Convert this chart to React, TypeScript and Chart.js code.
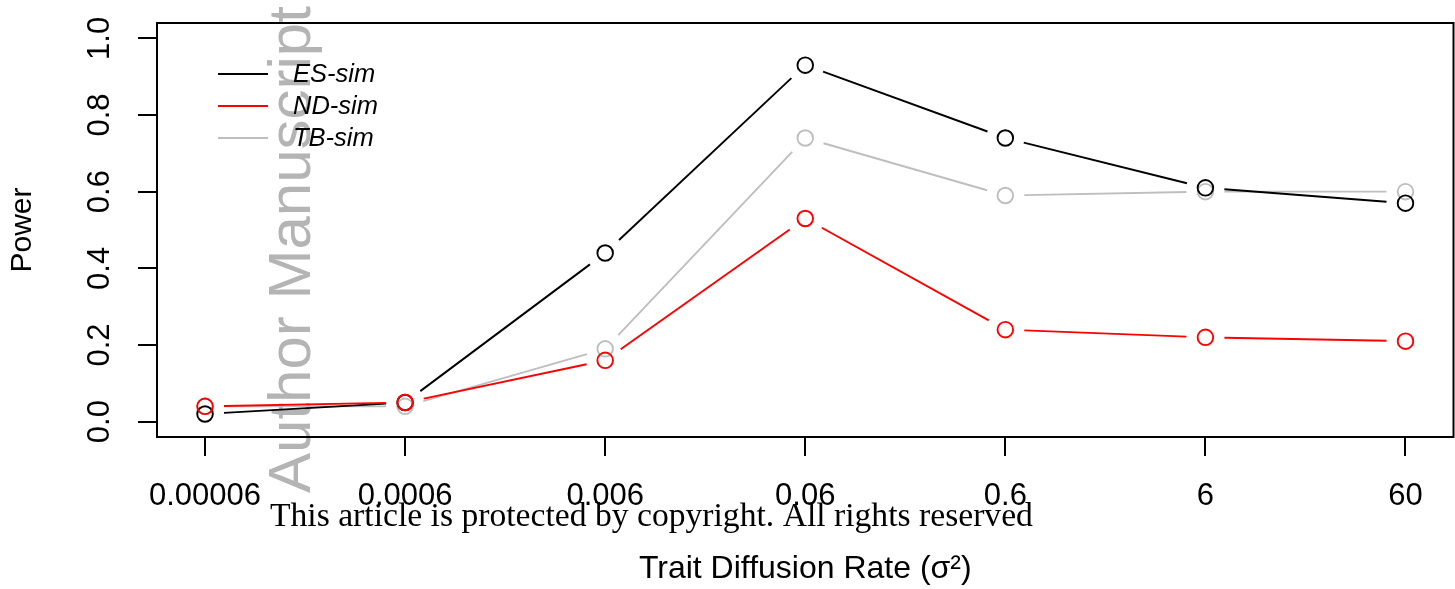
import React, { useEffect, useRef } from 'react';
import { Chart, registerables } from 'chart.js';

Chart.register(...registerables);

// ---- data ----
const xLabels = ['0.00006', '0.0006', '0.006', '0.06', '0.6', '6', '60'];
const yTickValues = [0, 0.2, 0.4, 0.6, 0.8, 1.0];
const esSim = [0.02, 0.05, 0.44, 0.93, 0.74, 0.61, 0.57];
const ndSim = [0.04, 0.05, 0.16, 0.53, 0.24, 0.22, 0.21];
const tbSim = [0.04, 0.04, 0.19, 0.74, 0.59, 0.60, 0.60];
const seriesNames = ['ES-sim', 'ND-sim', 'TB-sim'];
const seriesColors = ['#000000', '#ff0000', '#bebebe'];
const xTitle = 'Trait Diffusion Rate (σ²)';
const yTitle = 'Power';
const watermarkText = 'Author Manuscript';
const copyrightText = 'This article is protected by copyright. All rights reserved';

const W = 1455;
const H = 589;
const SANS = '"Liberation Sans", Arial, Helvetica, sans-serif';
const SERIF = '"Liberation Serif", "DejaVu Serif", serif';
const GAP = 19;

const toPoints = (arr: number[]) => arr.map((v, i) => ({ x: i, y: v }));

const zeroPad = (scale: any) => {
  scale.paddingTop = 0;
  scale.paddingBottom = 0;
  scale.paddingLeft = 0;
  scale.paddingRight = 0;
};

const gapLines = {
  id: 'gapLines',
  afterDatasetDraw(chart: any, args: any) {
    const ds = chart.data.datasets[args.index];
    const pts = args.meta.data;
    const ctx = chart.ctx;
    ctx.save();
    ctx.strokeStyle = ds.borderColor;
    ctx.lineWidth = 1.9;
    ctx.lineCap = 'butt';
    for (let i = 0; i < pts.length - 1; i++) {
      const a = pts[i];
      const b = pts[i + 1];
      const dx = b.x - a.x;
      const dy = b.y - a.y;
      const len = Math.sqrt(dx * dx + dy * dy);
      if (len <= 2 * GAP) continue;
      const ux = dx / len;
      const uy = dy / len;
      ctx.beginPath();
      ctx.moveTo(a.x + ux * GAP, a.y + uy * GAP);
      ctx.lineTo(b.x - ux * GAP, b.y - uy * GAP);
      ctx.stroke();
    }
    ctx.restore();
  },
};

const decorations = {
  id: 'decorations',
  beforeDraw(chart: any) {
    const ctx = chart.ctx;
    ctx.save();
    ctx.fillStyle = '#b4b4b4';
    ctx.font = `60px ${SANS}`;
    ctx.textAlign = 'left';
    ctx.textBaseline = 'alphabetic';
    ctx.translate(310, 493);
    ctx.rotate(-Math.PI / 2);
    ctx.fillText(watermarkText, 0, 0);
    ctx.restore();
  },
  afterDatasetsDraw(chart: any) {
    const { ctx, chartArea } = chart;
    ctx.save();
    ctx.strokeStyle = '#000';
    ctx.lineWidth = 2;
    ctx.strokeRect(chartArea.left, chartArea.top, chartArea.right - chartArea.left, chartArea.bottom - chartArea.top);
    ctx.restore();
  },
  afterDraw(chart: any) {
    const ctx = chart.ctx;
    // legend
    ctx.save();
    const legendX0 = 218;
    const legendX1 = 268;
    const legendY0 = 74;
    const legendStep = 32;
    ctx.font = `italic 25.5px ${SANS}`;
    ctx.textBaseline = 'middle';
    ctx.textAlign = 'left';
    chart.data.datasets.forEach((ds: any, i: number) => {
      const y = legendY0 + i * legendStep;
      ctx.strokeStyle = ds.borderColor;
      ctx.lineWidth = 1.9;
      ctx.beginPath();
      ctx.moveTo(legendX0, y);
      ctx.lineTo(legendX1, y);
      ctx.stroke();
      ctx.fillStyle = '#000';
      ctx.fillText(ds.label, 293, y + 1);
    });
    ctx.restore();

    // copyright line
    ctx.save();
    ctx.fillStyle = '#000';
    ctx.font = `30px ${SERIF}`;
    const w = ctx.measureText(copyrightText).width;
    const size = 30 * 763 / w;
    ctx.font = `${size}px ${SERIF}`;
    ctx.textAlign = 'left';
    ctx.textBaseline = 'alphabetic';
    ctx.fillText(copyrightText, 270, 526);
    ctx.restore();
  },
};

export default function App() {
  const ref = useRef<HTMLCanvasElement | null>(null);

  useEffect(() => {
    document.body.style.margin = '0';
    const canvas = ref.current;
    if (!canvas) return;
    const chart = new Chart(canvas, {
      type: 'scatter',
      data: {
        datasets: [
          { label: seriesNames[0], data: toPoints(esSim), borderColor: seriesColors[0], order: 1 },
          { label: seriesNames[1], data: toPoints(ndSim), borderColor: seriesColors[1], order: 0 },
          { label: seriesNames[2], data: toPoints(tbSim), borderColor: seriesColors[2], order: 2 },
        ].map((d) => ({
          ...d,
          showLine: false,
          backgroundColor: 'rgba(0,0,0,0)',
          pointBackgroundColor: 'rgba(0,0,0,0)',
          pointBorderColor: d.borderColor,
          pointRadius: 7.8,
          pointBorderWidth: 1.9,
          pointHoverRadius: 7.8,
        })),
      },
      options: {
        responsive: false,
        animation: false,
        events: [],
        layout: { autoPadding: false, padding: { top: 23, right: 1.5, left: 0, bottom: 0 } },
        plugins: {
          legend: { display: false },
          tooltip: { enabled: false },
          title: { display: false },
        },
        scales: {
          x: {
            type: 'linear',
            position: 'bottom',
            min: -0.24,
            max: 6.24,
            afterFit: (scale: any) => {
              scale.height = 152;
              zeroPad(scale);
            },
            afterBuildTicks: (scale: any) => {
              scale.ticks = xLabels.map((_, i) => ({ value: i }));
            },
            border: { display: false },
            grid: {
              drawOnChartArea: false,
              drawTicks: true,
              tickLength: 19,
              color: '#000',
              lineWidth: 2,
            },
            ticks: {
              autoSkip: false,
              maxRotation: 0,
              minRotation: 0,
              padding: 22,
              color: '#000',
              font: { family: SANS, size: 31 },
              callback: (v: any) => xLabels[Math.round(Number(v))] ?? '',
            },
            title: {
              display: true,
              text: xTitle,
              color: '#000',
              font: { family: SANS, size: 32 },
              padding: { top: 0, bottom: 1 },
            },
          },
          y: {
            type: 'linear',
            position: 'left',
            min: -0.04,
            max: 1.04,
            afterFit: (scale: any) => {
              scale.width = 157;
              zeroPad(scale);
            },
            afterBuildTicks: (scale: any) => {
              scale.ticks = yTickValues.map((v) => ({ value: v }));
            },
            border: { display: false },
            grid: {
              drawOnChartArea: false,
              drawTicks: true,
              tickLength: 19,
              color: '#000',
              lineWidth: 2,
            },
            ticks: {
              autoSkip: false,
              minRotation: 90,
              maxRotation: 90,
              crossAlign: 'center',
              padding: 16,
              color: '#000',
              font: { family: SANS, size: 31 },
              callback: (v: any) => Number(v).toFixed(1),
            },
            title: {
              display: true,
              text: yTitle,
              color: '#000',
              font: { family: SANS, size: 30 },
              padding: { top: 5, bottom: 0 },
            },
          },
        },
      },
      plugins: [gapLines, decorations],
    } as any);
    return () => chart.destroy();
  }, []);

  return (
    <div style={{ position: 'fixed', left: 0, top: 0, width: W, height: H, background: '#fff' }}>
      <canvas ref={ref} width={W} height={H} style={{ width: W, height: H, display: 'block' }} />
    </div>
  );
}
